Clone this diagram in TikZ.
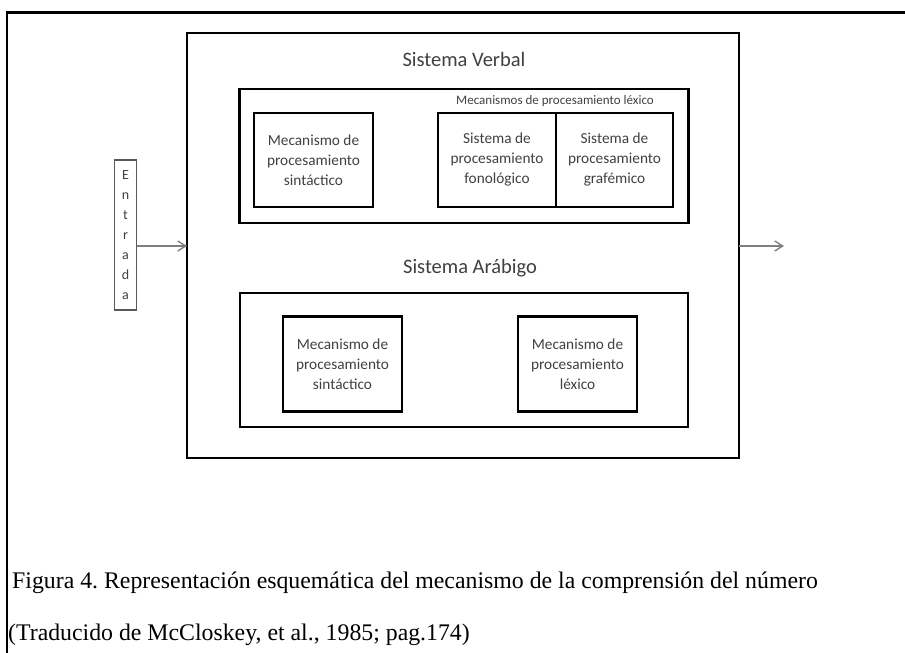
\documentclass[tikz,border=0pt]{standalone}
\usepackage{fontspec}
\setmainfont{Liberation Serif}
\newfontfamily\calfont{Carlito}
\usetikzlibrary{arrows.meta}
\definecolor{txtgray}{HTML}{404040}
\definecolor{arrgray}{HTML}{808080}
\frenchspacing
\begin{document}
\begin{tikzpicture}[x=1pt,y=-1pt,
  bigbox/.style={draw=black, line width=2.5pt, inner sep=0pt, outer sep=0pt},
  subbox/.style={draw=black, line width=2.5pt, inner sep=0pt, outer sep=0pt,
     font=\calfont\fontsize{15.3}{20}\selectfont, text=txtgray, align=center},
  sectitle/.style={font=\calfont\fontsize{20.5}{24}\selectfont, text=txtgray},
  arr/.style={draw=arrgray, line width=1.4pt, -{Straight Barb[length=8pt,width=10pt]}},
  captext/.style={font=\fontsize{23.8}{28}\selectfont, anchor=base west, inner sep=0pt}]
\useasboundingbox (0,0) rectangle (905,653);
% outer frame (top and left only)
\coordinate (fa) at (905,12.5);
\coordinate (fb) at (7,12.5);
\coordinate (fc) at (7,653);
\draw[line width=2.5pt] (fa) -- (fb) -- (fc);
% main box
\node[bigbox, minimum width=552pt, minimum height=425pt] (main) at (463,245.5) {};
\node[sectitle] (tverbal) at (464,59) {Sistema Verbal};
% verbal box
\node[bigbox, minimum width=449pt, minimum height=134pt] (verbal) at (464,156) {};
\node[font=\calfont\fontsize{13}{15}\selectfont, text=txtgray] (lexlab) at (555,101) {Mecanismos de procesamiento léxico};
\node[subbox, minimum width=119pt, minimum height=94pt] (vsint) at (313.5,160) {Mecanismo de\\procesamiento\\sintáctico};
\node[subbox, minimum width=118pt, minimum height=94pt] (vfon) at (497,160) {Sistema de\\procesamiento\\fonológico};
\node[subbox, minimum width=117pt, minimum height=94pt] (vgraf) at (614.5,160) {Sistema de\\procesamiento\\grafémico};
% arabic
\node[sectitle] (tarab) at (470,268) {Sistema Arábigo};
\node[bigbox, minimum width=448pt, minimum height=134pt] (arab) at (464,360) {};
\node[subbox, minimum width=119pt, minimum height=95pt] (asint) at (342.5,364) {Mecanismo de\\procesamiento\\sintáctico};
\node[subbox, minimum width=119pt, minimum height=95pt] (alex) at (577.5,364) {Mecanismo de\\procesamiento\\léxico};
% entrada
\node[draw=black!65, line width=1.3pt, minimum width=22pt, minimum height=150pt, inner sep=0pt,
  font=\calfont\fontsize{14}{20}\selectfont, text=txtgray, align=center] (entrada) at (125.5,235)
  {E\\n\\t\\r\\a\\d\\a};
\coordinate (outend) at (784,246);
\draw[arr] (entrada.east |- 0,246) -- (main.west |- 0,246);
\draw[arr] (main.east |- 0,246) -- (outend);
% caption
\node[captext] (cap1) at (12,588) {Figura 4. Representación esquemática del mecanismo de la comprensión del número};
\node[captext] (cap2) at (8,640) {(Traducido de McCloskey, et al., 1985; pag.174)};
\end{tikzpicture}
\end{document}
